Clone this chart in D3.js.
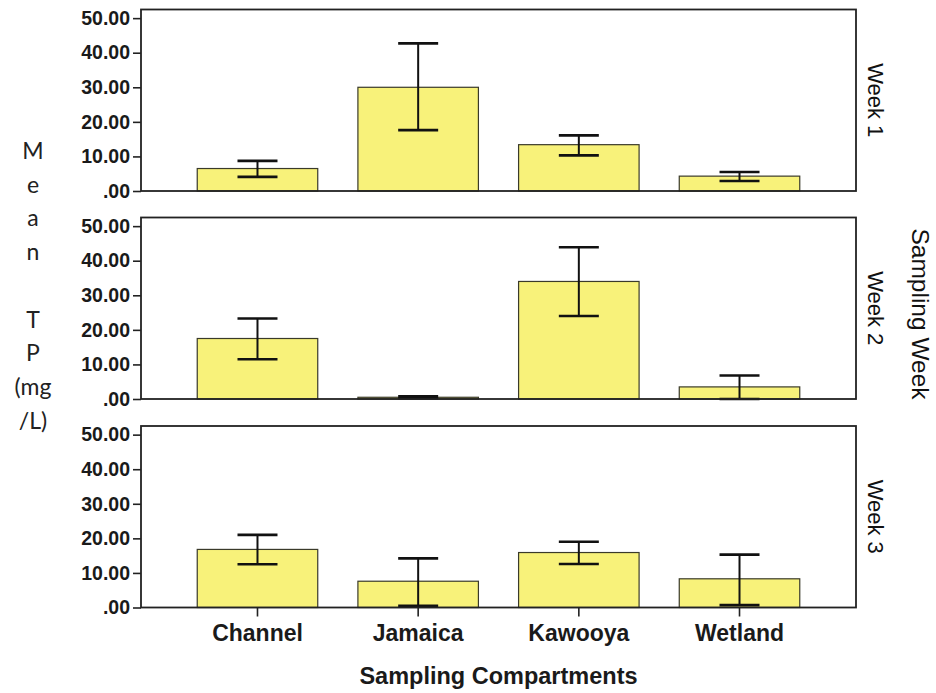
<!DOCTYPE html>
<html>
<head>
<meta charset="utf-8">
<script src="https://cdn.jsdelivr.net/npm/d3@7"></script>
<style>
  html, body { margin: 0; padding: 0; background: #fff; }
  svg { display: block; }
  .tick text { font-family: "Liberation Sans", Arial, sans-serif; font-weight: bold; fill: #1a1a1a; }
</style>
</head>
<body>
<div id="chart"></div>
<script>
// data (mean TP, mg/L, with error bar ends)
const compartments = ['Channel', 'Jamaica', 'Kawooya', 'Wetland'];
const weeks = ['Week 1', 'Week 2', 'Week 3'];
const means = [
  [6.5, 30.0, 13.4, 4.3],
  [17.5, 0.5, 34.0, 3.5],
  [16.8, 7.6, 15.9, 8.3]
];
const errHigh = [
  [8.7, 42.7, 16.1, 5.5],
  [23.3, 0.8, 43.9, 6.8],
  [21.0, 14.2, 19.0, 15.3]
];
const errLow = [
  [4.1, 17.6, 10.3, 2.9],
  [11.5, 0.2, 24.0, 0.0],
  [12.5, 0.5, 12.6, 0.7]
];
const yTicks = [0, 10, 20, 30, 40, 50];
const yLabelLines = ['M', 'e', 'a', 'n', '', 'T', 'P', '(mg', '/L)'];

const W = 936, H = 693;
const svg = d3.select('#chart').append('svg').attr('width', W).attr('height', H);

const L = 141, R = 856;
const panelTop = [9.5, 217.5, 426];
const panelH = 181.5;

const x = d3.scaleBand()
  .domain(compartments)
  .range([L, R])
  .paddingInner(0.25)
  .paddingOuter(0.35);

const fmt = d => d === 0 ? '.00' : d3.format('.2f')(d);

weeks.forEach((wk, wi) => {
  const top = panelTop[wi], bot = top + panelH;
  const y = d3.scaleLinear().domain([0, 52.5]).range([bot, top]);
  const g = svg.append('g');

  const rows = compartments.map((c, i) => ({ c, m: means[wi][i], hi: errHigh[wi][i], lo: errLow[wi][i] }));

  g.selectAll('rect.bar')
    .data(rows)
    .enter().append('rect')
    .attr('class', 'bar')
    .attr('x', d => x(d.c))
    .attr('y', d => y(d.m))
    .attr('width', x.bandwidth())
    .attr('height', d => y(0) - y(d.m))
    .attr('fill', '#f8f27a')
    .attr('stroke', '#3a3a2a')
    .attr('stroke-width', 1.2);

  const cx = d => x(d.c) + x.bandwidth() / 2;
  const capW = 20;
  g.selectAll('line.err')
    .data(rows)
    .enter().append('line')
    .attr('x1', cx).attr('x2', cx)
    .attr('y1', d => y(d.lo)).attr('y2', d => y(d.hi))
    .attr('stroke', '#111').attr('stroke-width', 2);
  ['hi', 'lo'].forEach(k => {
    g.selectAll('line.cap' + k)
      .data(rows)
      .enter().append('line')
      .attr('x1', d => cx(d) - capW).attr('x2', d => cx(d) + capW)
      .attr('y1', d => y(d[k])).attr('y2', d => y(d[k]))
      .attr('stroke', '#111').attr('stroke-width', 2.6);
  });

  // frame
  g.append('rect')
    .attr('x', L).attr('y', top)
    .attr('width', R - L).attr('height', panelH)
    .attr('fill', 'none').attr('stroke', '#222').attr('stroke-width', 1.8);

  const ax = g.append('g')
    .attr('transform', `translate(${L},0)`)
    .call(d3.axisLeft(y).tickValues(yTicks).tickFormat(fmt).tickSize(8).tickPadding(3));
  ax.select('.domain').remove();
  ax.selectAll('.tick line').attr('stroke', '#222').attr('stroke-width', 1.6);
  ax.selectAll('.tick text').style('font-size', '19.5px');

  svg.append('text')
    .attr('transform', `translate(868,${top + panelH / 2}) rotate(90)`)
    .attr('text-anchor', 'middle')
    .style('font-family', '"Liberation Sans", Arial, sans-serif')
    .style('font-size', '22px')
    .attr('fill', '#111')
    .text(wk);

  if (wi === 2) {
    const xa = svg.append('g')
      .attr('transform', `translate(0,${bot})`)
      .call(d3.axisBottom(x).tickSize(9).tickPadding(8));
    xa.select('.domain').remove();
    xa.selectAll('.tick line').attr('stroke', '#222').attr('stroke-width', 1.6);
    xa.selectAll('.tick text').style('font-size', '23px');
  }
});

svg.append('text')
  .attr('x', (L + R) / 2)
  .attr('y', 684)
  .attr('text-anchor', 'middle')
  .style('font-family', '"Liberation Sans", Arial, sans-serif')
  .style('font-weight', 'bold')
  .style('font-size', '23.5px')
  .attr('fill', '#1a1a1a')
  .text('Sampling Compartments');

svg.append('text')
  .attr('transform', `translate(912,314) rotate(90)`)
  .attr('text-anchor', 'middle')
  .style('font-family', '"Liberation Sans", Arial, sans-serif')
  .style('font-size', '24.5px')
  .attr('fill', '#111')
  .text('Sampling Week');

const yl = svg.append('text')
  .attr('text-anchor', 'middle')
  .style('font-family', 'Lato, "Open Sans", sans-serif')
  .style('font-size', '23px')
  .attr('fill', '#222');
yLabelLines.forEach((t, i) => {
  yl.append('tspan').attr('x', 33).attr('y', 159 + i * 33.7).text(t);
});
</script>
</body>
</html>
